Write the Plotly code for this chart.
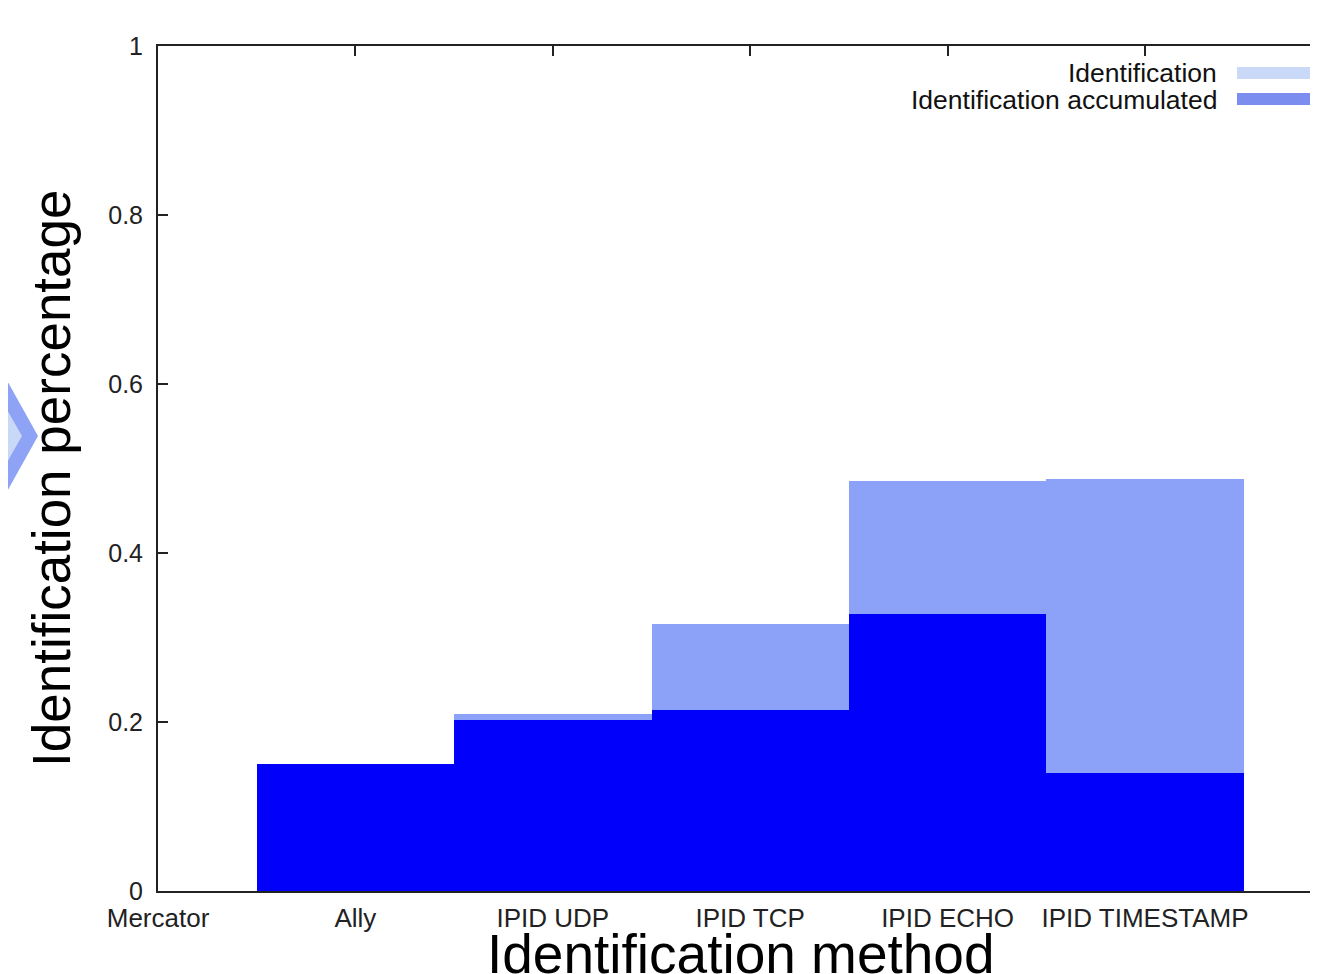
import plotly.graph_objects as go

categories = ["Mercator", "Ally", "IPID UDP", "IPID TCP", "IPID ECHO", "IPID TIMESTAMP"]
bar_positions = [1, 2, 3, 4, 5]
identification = [0.150, 0.202, 0.214, 0.328, 0.140]
identification_accumulated = [0.150, 0.209, 0.316, 0.485, 0.488]
y_ticks = [0, 0.2, 0.4, 0.6, 0.8, 1]
y_tick_labels = ["0", "0.2", "0.4", "0.6", "0.8", "1"]

OFF = 8                 # page body offset
W, H = 1302, 974        # figure size (page fits it into 1318 - 2*OFF)
L, T, B = 158, 46, 83   # target positions in the screenshot
RIGHT = W + OFF         # plot right edge on screen
unit_px = 197.4
x_max = (RIGHT - L) / unit_px

DARK = "#0000fb"
LIGHT = "#8ca1f8"
LEG_LIGHT = "#c9d9f7"
LEG_MED = "#7b8ef0"
FONT = "Liberation Sans, Arial, sans-serif"

fig = go.Figure()
fig.add_trace(go.Bar(x=bar_positions, y=identification_accumulated, width=1,
                     marker=dict(color=LIGHT, line=dict(width=0)),
                     name="Identification accumulated", showlegend=False))
fig.add_trace(go.Bar(x=bar_positions, y=identification, width=1,
                     marker=dict(color=DARK, line=dict(width=0)),
                     name="Identification", showlegend=False))

pw = RIGHT - L
ph = H - T - B
def px(x):
    return (x - L) / pw
def py(y):
    return (H - B - y) / ph

shapes = []
shapes.append(dict(type="rect", xref="paper", yref="paper",
                   x0=px(1237), x1=px(1310), y0=py(79), y1=py(67),
                   fillcolor=LEG_LIGHT, line=dict(width=0)))
shapes.append(dict(type="rect", xref="paper", yref="paper",
                   x0=px(1237), x1=px(1310), y0=py(105), y1=py(93),
                   fillcolor=LEG_MED, line=dict(width=0)))
shapes.append(dict(type="path", xref="paper", yref="paper",
                   path=f"M {px(-10)},{py(350)} L {px(38)},{py(436)} L {px(-10)},{py(522)} Z",
                   fillcolor="#8ea2f6", line=dict(width=0), layer="below"))
shapes.append(dict(type="path", xref="paper", yref="paper",
                   path=f"M {px(-10)},{py(380)} L {px(22)},{py(436)} L {px(-10)},{py(492)} Z",
                   fillcolor="#cad8f8", line=dict(width=0), layer="below"))

annotations = [
    dict(text="Identification", xref="paper", yref="paper", x=px(1219), y=py(73),
         xanchor="right", yanchor="middle", showarrow=False,
         font=dict(family=FONT, size=26.5, color="#111")),
    dict(text="Identification accumulated", xref="paper", yref="paper", x=px(1219), y=py(100),
         xanchor="right", yanchor="middle", showarrow=False,
         font=dict(family=FONT, size=26.5, color="#111")),
    dict(text="Identification method", xref="paper", yref="paper", x=px(741), y=py(954),
         xanchor="center", yanchor="middle", showarrow=False,
         font=dict(family=FONT, size=55, color="#000")),
    dict(text="Identification percentage", xref="paper", yref="paper", x=px(51), y=py(478),
         xanchor="center", yanchor="middle", showarrow=False, textangle=-90,
         font=dict(family=FONT, size=53, color="#000")),
]

fig.update_layout(
    width=W, height=H,
    margin=dict(l=L - OFF, r=0, t=T - OFF, b=B + OFF, pad=0),
    paper_bgcolor="white", plot_bgcolor="white",
    barmode="overlay", bargap=0,
    showlegend=False,
    shapes=shapes, annotations=annotations,
    font=dict(family=FONT, size=26, color="#222"),
)
fig.update_xaxes(range=[0, x_max], tickmode="array", tickvals=list(range(len(categories))),
                 ticktext=categories, showgrid=False, zeroline=False,
                 showline=True, linecolor="#222", linewidth=2, mirror="ticks",
                 ticks="inside", ticklen=10, tickwidth=1.5, tickcolor="#222",
                 ticklabelstandoff=3, layer="below traces",
                 tickfont=dict(family=FONT, size=26, color="#222"))
fig.update_yaxes(range=[0, 1], tickmode="array", tickvals=y_ticks, ticktext=y_tick_labels,
                 showgrid=False, zeroline=False,
                 showline=True, linecolor="#222", linewidth=2,
                 ticks="inside", ticklen=10, tickwidth=1.5, tickcolor="#222",
                 ticklabelstandoff=8,
                 tickfont=dict(family=FONT, size=25, color="#222"))

fig.write_html("out.html")
